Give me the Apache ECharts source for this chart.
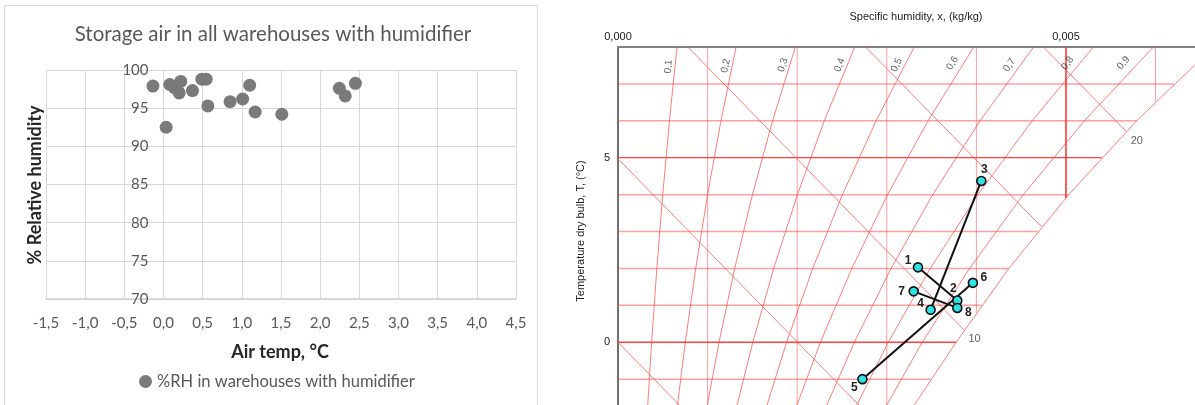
<!DOCTYPE html>
<html><head><meta charset="utf-8">
<script src="https://cdn.jsdelivr.net/npm/echarts@6/dist/echarts.min.js"></script>
<style>html,body{margin:0;padding:0;background:#fff}#c{width:1195px;height:405px}</style>
</head><body><div id="c"></div>
<script>
// ---------- Left chart data ----------
const seriesName = '%RH in warehouses with humidifier';
const airTemp = [-0.135, 0.034, 0.08, 0.14, 0.22, 0.20, 0.37, 0.49, 0.545, 0.566, 0.85, 1.01, 1.10, 1.17, 1.51, 2.245, 2.32, 2.45];
const relHum  = [97.9,   92.5,  98.1, 97.7, 98.5, 97.0, 97.3, 98.8, 98.8,  95.3,  95.85, 96.2, 98.0, 94.5, 94.2, 97.6,  96.6, 98.25];

// ---------- Right chart (psychrometric) data ----------
const rightXTicks = [0, 0.005];
const rightXTickLabels = ['0,000', '0,005'];
const rightYTicks = [0, 5];
const rightYTickLabels = ['0', '5'];

// isotherms (T, x where they meet saturation)
const isoTemps = [-1, 0, 1, 2, 3, 4, 5, 6, 7];
const isoEndX  = [0.00349, 0.003775, 0.004059, 0.004362, 0.004686, 0.005030, 0.005398, 0.005789, 0.006205];
// constant specific humidity lines (x, T where they meet saturation)
const xLines    = [0.001, 0.002, 0.003, 0.004, 0.005, 0.006];
const xLineEndT = [-2, -2, -2, 0.80, 3.91, 6.52];
const xLineTopT = 8;
// relative humidity curves, x read at these temperatures
const rhValues = [0.1, 0.2, 0.3, 0.4, 0.5, 0.6, 0.7, 0.8, 0.9, 1.0];
const rhTemps  = [-2, 0, 2, 4, 6, 8];
const rhX = [
  [0.000324, 0.0003754, 0.0004335, 0.0004994, 0.0005741, 0.0006584],
  [0.000649, 0.0007513, 0.0008676, 0.0009996, 0.0011492, 0.0013182],
  [0.000974, 0.0011276, 0.0013023, 0.0015007, 0.0017254, 0.0019794],
  [0.001299, 0.0015044, 0.0017377, 0.0020025, 0.0023026, 0.0026420],
  [0.001625, 0.0018816, 0.0021736, 0.0025051, 0.0028809, 0.0033060],
  [0.001951, 0.0022594, 0.0026102, 0.0030085, 0.0034603, 0.0039710],
  [0.002277, 0.0026375, 0.0030473, 0.0035128, 0.0040408, 0.0046380],
  [0.002604, 0.0030161, 0.0034851, 0.0040179, 0.0046224, 0.0053060],
  [0.002931, 0.0033952, 0.0039234, 0.0045238, 0.0052050, 0.0059760],
  [0.003225, 0.0037747, 0.0043625, 0.0050304, 0.0057887, 0.0066470]
];
const rhLabelText = ['0,1','0,2','0,3','0,4','0,5','0,6','0,7','0,8','0,9'];
const rhLabelX = [0.000563, 0.001204, 0.001841, 0.002475, 0.003110, 0.003732, 0.004369, 0.005018, 0.005641];
const rhLabelT = [7.47, 7.49, 7.51, 7.51, 7.51, 7.56, 7.51, 7.56, 7.57];
// enthalpy lines (kJ/kg): start and end points [x, T]
const hValues = [0, 5, 10, 15, 20];
const hStart = [[0, 0], [0, 4.97], [0, 9.94], [0.002, 9.90], [0.004, 9.86]];
const hEnd   = [[0.0012, -2.98], [0.003, -2.47], [0.003865, 0.33], [0.004729, 3.125], [0.005672, 5.71]];
const hLabelText = ['10', '20'];
const hLabelX = [0.00398, 0.00579];
const hLabelT = [0.10, 5.445];
// measured states
const pointNames = ['1','2','3','4','5','6','7','8'];
const pointX = [0.003348, 0.003787, 0.004055, 0.003489, 0.002728, 0.003961, 0.003300, 0.003787];
const pointT = [2.03, 1.13, 4.37, 0.88, -1.00, 1.61, 1.38, 0.93];
const pointPairs = [[0, 1], [2, 3], [4, 5], [6, 7]];

// ---------- styles ----------
const rhLabelAngle = [84, 78, 73, 68, 63, 58, 55, 52, 49];
const pointLabelOffsets = [[-10,-7],[-4,-12],[3,-11],[-10,-6],[-8,9],[11,-5],[-12,0],[11,5]];
const FONT_L = 'Lato';
const FONT_R = 'Liberation Sans';
const LEFT_GRID = { left: 46, top: 70, width: 470, height: 229 };
const LEFT_X_MIN = -1.5, LEFT_X_MAX = 4.5;
// y axis crosses at x = 0 (offset inward from the grid's left edge)
const yCrossOffset = -LEFT_GRID.width * (0 - LEFT_X_MIN) / (LEFT_X_MAX - LEFT_X_MIN);

function gridLine(data, color, width) {
  return { type: 'line', xAxisIndex: 1, yAxisIndex: 1, data: data, symbol: 'none', showSymbol: false,
    silent: true, animation: false, clip: true, z: 2, lineStyle: { color: color, width: width } };
}

const series = [];
series.push({
  type: 'scatter', name: seriesName, xAxisIndex: 0, yAxisIndex: 0,
  data: airTemp.map((t, i) => [t, relHum[i]]), symbolSize: 13,
  itemStyle: { color: '#7a7a7a', opacity: 1 }, animation: false
});
isoTemps.forEach((T, i) => {
  const major = (T === 0 || T === 5);
  series.push(gridLine([[0, T], [isoEndX[i], T]], major ? '#ff4040' : 'rgba(255,80,80,0.55)', major ? 1.3 : 1.5));
});
xLines.forEach((x, i) => {
  const major = Math.abs(x - 0.005) < 1e-9;
  series.push(gridLine([[x, xLineTopT], [x, xLineEndT[i]]], major ? '#ff2a2a' : 'rgba(255,80,80,0.55)', major ? 1.5 : 1));
});
rhValues.forEach((rh, i) => {
  series.push(gridLine(rhTemps.map((T, j) => [rhX[i][j], T]), 'rgba(255,70,70,0.7)', 1));
});
hValues.forEach((h, i) => {
  series.push(gridLine([hStart[i], hEnd[i]], 'rgba(255,70,70,0.7)', 1));
});
series.push({
  type: 'scatter', xAxisIndex: 1, yAxisIndex: 1, silent: true, animation: false, symbolSize: 1,
  itemStyle: { color: 'transparent' }, z: 4,
  data: rhLabelText.map((t, i) => ({ name: t, value: [rhLabelX[i], rhLabelT[i]], label: { rotate: rhLabelAngle[i] } })),
  label: { show: true, position: 'inside', formatter: p => p.name, fontSize: 10, color: '#333', fontFamily: FONT_R }
});
series.push({
  type: 'scatter', xAxisIndex: 1, yAxisIndex: 1, silent: true, animation: false, symbolSize: 1,
  itemStyle: { color: 'transparent' }, z: 4,
  data: hLabelText.map((t, i) => ({ name: t, value: [hLabelX[i], hLabelT[i]] })),
  label: { show: true, position: 'inside', formatter: p => p.name, fontSize: 11, color: '#333', fontFamily: FONT_R }
});
pointPairs.forEach(pr => {
  series.push({ type: 'line', xAxisIndex: 1, yAxisIndex: 1, silent: true, animation: false, symbol: 'none', z: 6,
    data: pr.map(k => [pointX[k], pointT[k]]), lineStyle: { color: '#111', width: 2 } });
});
series.push({
  type: 'scatter', xAxisIndex: 1, yAxisIndex: 1, silent: true, animation: false, symbolSize: 9, z: 8,
  itemStyle: { color: '#2fe3e3', borderColor: '#111', borderWidth: 1.6, opacity: 1 },
  data: pointNames.map((n, i) => ({ name: n, value: [pointX[i], pointT[i]], label: { offset: pointLabelOffsets[i] } })),
  label: { show: true, position: 'inside', formatter: p => p.name, fontSize: 12, fontWeight: 'bold', color: '#222', fontFamily: FONT_R }
});

const option = {
  animation: false,
  backgroundColor: '#fff',
  legend: {
    data: [seriesName], left: 139, top: 373, padding: 0, icon: 'circle', itemWidth: 13, itemHeight: 13,
    textStyle: { fontFamily: FONT_L, fontSize: 16.5, color: '#595959' }
  },
  grid: [
    LEFT_GRID,
    { left: 618, top: 47, width: 577.7, height: 359.7 }
  ],
  xAxis: [
    { type: 'value', gridIndex: 0, min: LEFT_X_MIN, max: LEFT_X_MAX, interval: 0.5,
      axisLine: { show: true, lineStyle: { color: '#cfcfcf', width: 1.5 } },
      axisTick: { show: false },
      splitLine: { show: true, lineStyle: { color: '#d9d9d9', width: 1 } },
      axisLabel: { formatter: v => v.toFixed(1).replace('.', ','), color: '#595959', fontSize: 15, fontFamily: FONT_L, margin: 17 } },
    { type: 'value', gridIndex: 1, position: 'top', min: 0, max: 0.00644, interval: 0.005,
      axisLine: { show: true, onZero: false, lineStyle: { color: '#808080', width: 2 } },
      axisTick: { show: false }, splitLine: { show: false },
      axisLabel: { formatter: v => { const k = rightXTicks.findIndex(t => Math.abs(t - v) < 1e-9); return k >= 0 ? rightXTickLabels[k] : ''; },
        color: '#222', fontSize: 11, fontFamily: FONT_R, margin: 5, showMaxLabel: false } }
  ],
  yAxis: [
    { type: 'value', gridIndex: 0, min: 70, max: 100, interval: 5, offset: yCrossOffset,
      axisLine: { show: false, onZero: false },
      axisTick: { show: false },
      splitLine: { show: true, lineStyle: { color: '#d9d9d9', width: 1 } },
      axisLabel: { color: '#595959', fontSize: 15, fontFamily: FONT_L, margin: 15 } },
    { type: 'value', gridIndex: 1, min: -1.7, max: 8, interval: 0.1,
      axisLine: { show: true, onZero: false, lineStyle: { color: '#707070', width: 2 } },
      axisTick: { show: false }, splitLine: { show: false },
      axisLabel: { formatter: v => { const k = rightYTicks.findIndex(t => Math.abs(t - v) < 1e-6); return k >= 0 ? rightYTickLabels[k] : ''; },
        color: '#222', fontSize: 11, fontFamily: FONT_R, margin: 8 } }
  ],
  graphic: [
    { type: 'rect', silent: true, z: -10, shape: { x: 4.5, y: 5.5, width: 533, height: 440 }, style: { fill: 'none', stroke: '#d9d9d9', lineWidth: 1 } },
    { type: 'text', silent: true, x: 273, y: 34, style: { text: 'Storage air in all warehouses with humidifier', align: 'center', verticalAlign: 'middle', fontFamily: FONT_L, fontSize: 20.5, fill: '#595959' } },
    { type: 'text', silent: true, x: 35, y: 185, rotation: Math.PI / 2, style: { text: '% Relative humidity', align: 'center', verticalAlign: 'middle', fontFamily: FONT_L, fontSize: 18, fontWeight: 'bold', fill: '#262626' } },
    { type: 'text', silent: true, x: 280, y: 352, style: { text: 'Air temp, °C', align: 'center', verticalAlign: 'middle', fontFamily: FONT_L, fontSize: 18, fontWeight: 'bold', fill: '#262626' } },
    { type: 'text', silent: true, x: 916, y: 17, style: { text: 'Specific humidity, x, (kg/kg)', align: 'center', verticalAlign: 'middle', fontFamily: FONT_R, fontSize: 11, fill: '#222' } },
    { type: 'text', silent: true, x: 581, y: 231, rotation: Math.PI / 2, style: { text: 'Temperature dry bulb, T, (°C)', align: 'center', verticalAlign: 'middle', fontFamily: FONT_R, fontSize: 11, fill: '#222' } }
  ],
  series: series
};
const chart = echarts.init(document.getElementById('c'), null, { renderer: 'canvas' });
chart.setOption(option);
</script></body></html>
